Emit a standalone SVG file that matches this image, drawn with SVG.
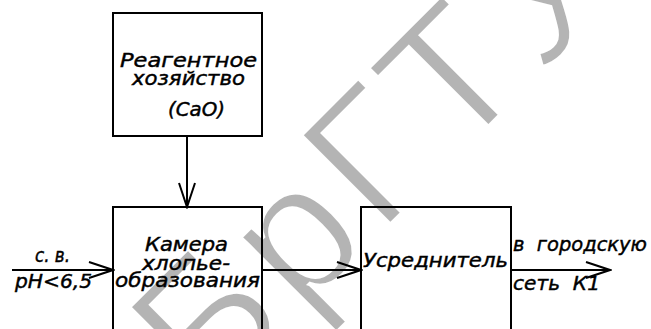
<svg xmlns="http://www.w3.org/2000/svg" width="651" height="329" viewBox="0 0 651 329">
<style>
.box{fill:none;stroke:#000;stroke-width:2}
.ln{fill:none;stroke:#000;stroke-width:2}
.t{font-family:"DejaVu Sans","Liberation Sans",sans-serif;font-style:italic;font-size:20px;fill:#000;stroke:#000;stroke-width:0.45;white-space:pre}
.s{font-size:19px}
.wm{font-family:"Liberation Sans",Arial,sans-serif;font-size:184px;fill:#b4b4b4;stroke:#fff;stroke-width:4}
</style>
<defs>
<marker id="arr" viewBox="-27 -10 29 20" refX="0" refY="0" markerWidth="29" markerHeight="20" orient="auto" markerUnits="userSpaceOnUse">
<path d="M-24,-8 L0,0 L-24,8" fill="none" stroke="#000" stroke-width="2"/>
</marker>
</defs>
<rect width="651" height="329" fill="#fff"/>
<g id="watermark">
<text class="wm" transform="rotate(-45)" x="-141 -10 102 208 328" y="435">БрГТУ</text>
</g>
<g id="connectors">
<line class="ln" x1="187" y1="136" x2="187" y2="207" marker-end="url(#arr)"/>
<line class="ln" x1="12" y1="270" x2="113" y2="270" marker-end="url(#arr)"/>
<line class="ln" x1="262" y1="270" x2="361" y2="270" marker-end="url(#arr)"/>
<line class="ln" x1="511" y1="270" x2="610" y2="270" marker-end="url(#arr)"/>
</g>
<g id="reagent">
<rect class="box" x="113" y="13" width="149" height="123"/>
<text class="t" x="120" y="66.5" textLength="137" lengthAdjust="spacingAndGlyphs">Реагентное</text>
<text class="t" x="132" y="85" textLength="113" lengthAdjust="spacingAndGlyphs">хозяйство</text>
<text class="t" x="168" y="116" textLength="57" lengthAdjust="spacingAndGlyphs">(CaO)</text>
</g>
<g id="chamber">
<rect class="box" x="113" y="207" width="149" height="140"/>
<text class="t" x="145" y="251" textLength="83" lengthAdjust="spacingAndGlyphs">Камера</text>
<text class="t" x="142" y="270" textLength="88" lengthAdjust="spacingAndGlyphs">хлопье-</text>
<text class="t" x="115" y="287" textLength="145" lengthAdjust="spacingAndGlyphs">образования</text>
</g>
<g id="equalizer">
<rect class="box" x="361" y="207" width="150" height="140"/>
<text class="t" x="363" y="267" textLength="145" lengthAdjust="spacingAndGlyphs">Усреднитель</text>
</g>
<g id="labels">
<text class="t s" x="35" y="262" textLength="35" lengthAdjust="spacingAndGlyphs">с. в.</text>
<text class="t s" x="15" y="288" textLength="77" lengthAdjust="spacingAndGlyphs">pH&lt;6,5</text>
<text class="t" x="513" y="251" textLength="134" lengthAdjust="spacingAndGlyphs" xml:space="preserve">в  городскую</text>
<text class="t" x="513" y="290" textLength="87" lengthAdjust="spacingAndGlyphs" xml:space="preserve">сеть  К1</text>
</g>
</svg>
